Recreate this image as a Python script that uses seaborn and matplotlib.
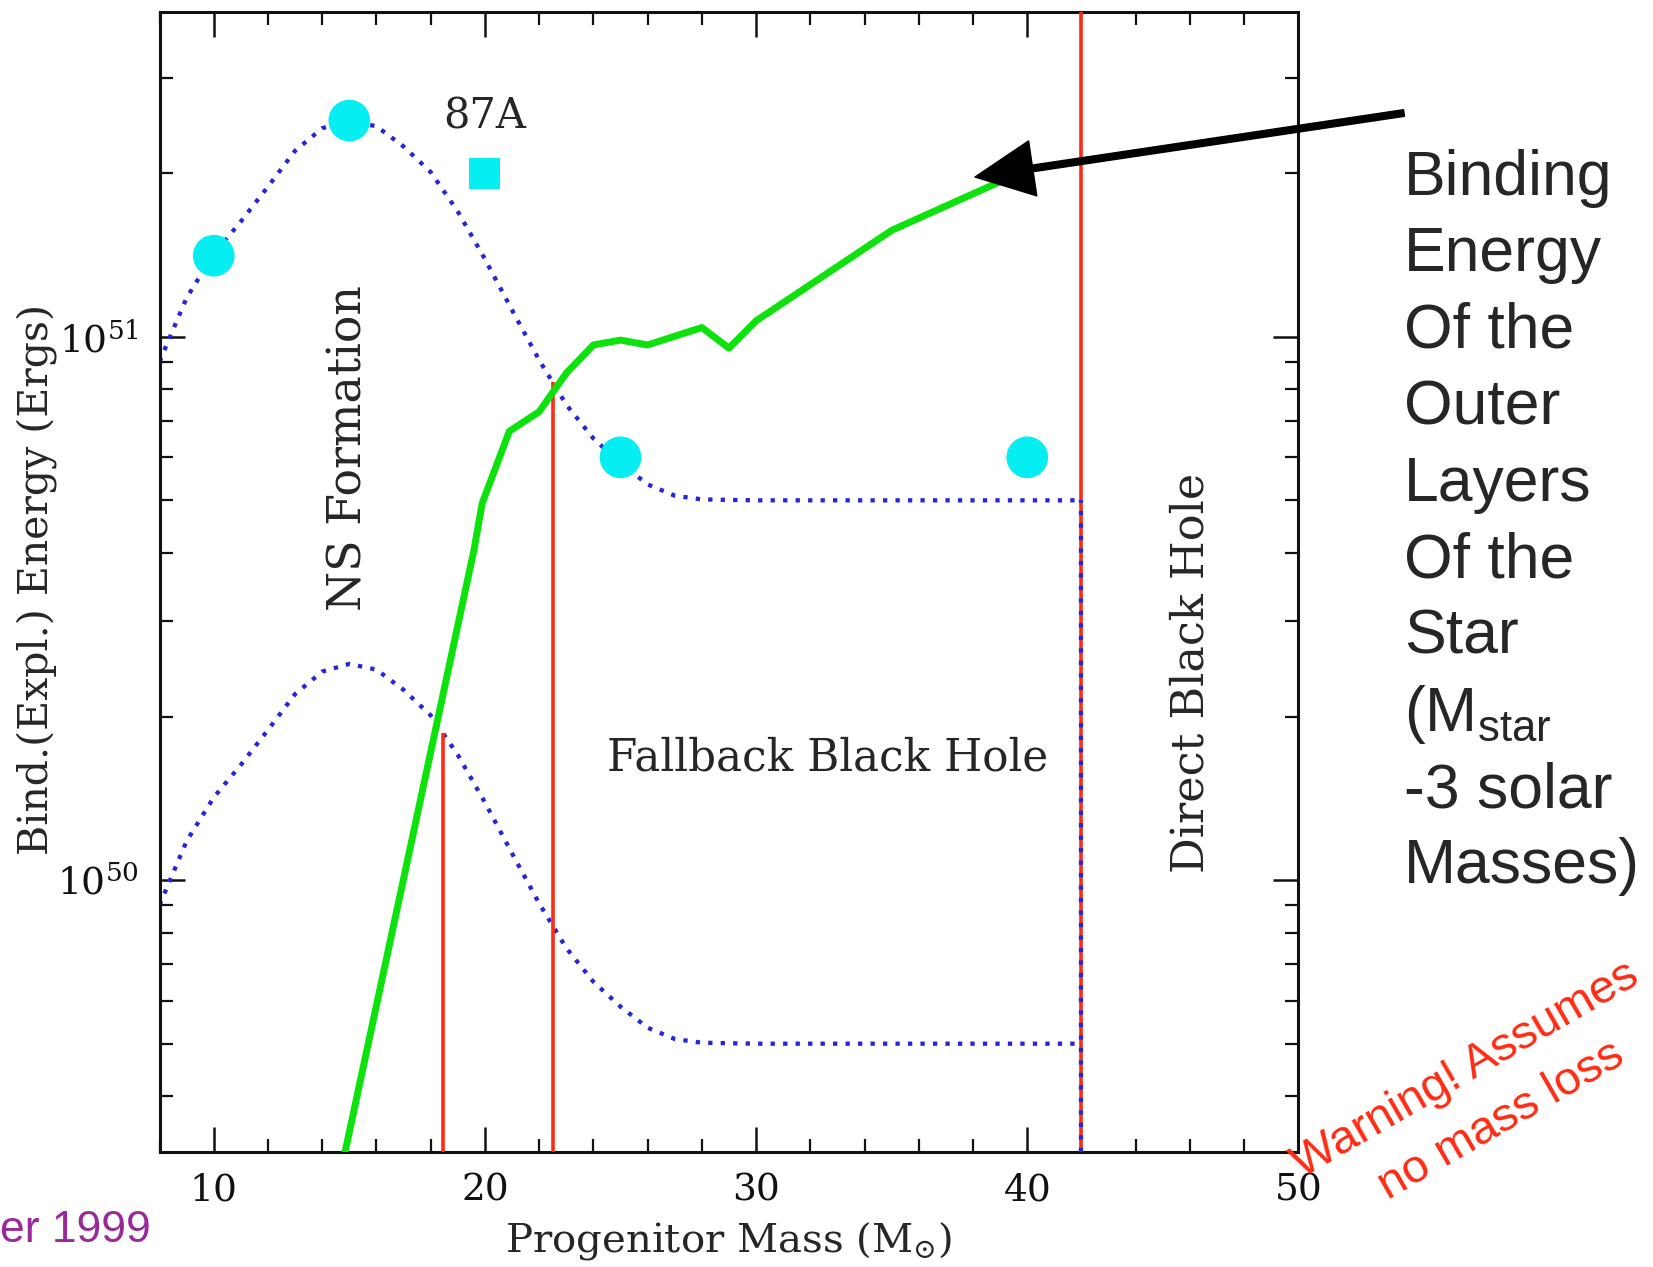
import numpy as np
import pandas as pd
import matplotlib
matplotlib.use("Agg")
import matplotlib.pyplot as plt
import seaborn as sns
from matplotlib.ticker import MultipleLocator, LogLocator, NullFormatter

# ---- data -------------------------------------------------------------
# explosion energy (erg) versus progenitor mass (solar masses)
mass_grid = [8, 9, 10, 11, 12, 13, 14, 15, 16, 17, 18, 19, 20, 21, 22,
             23, 24, 25, 26, 27, 28, 30, 35, 42]
expl_upper = [9.0e50, 1.18e51, 1.42e51, 1.63e51, 1.89e51, 2.20e51, 2.42e51,
              2.50e51, 2.44e51, 2.24e51, 2.01e51, 1.70e51, 1.39e51, 1.12e51,
              9.06e50, 7.50e50, 6.50e50, 5.85e50, 5.35e50, 5.10e50, 5.02e50,
              5.00e50, 5.00e50, 5.00e50]
expl_lower = [9.0e49, 1.18e50, 1.42e50, 1.63e50, 1.89e50, 2.20e50, 2.42e50,
              2.50e50, 2.44e50, 2.24e50, 2.01e50, 1.70e50, 1.39e50, 1.12e50,
              9.06e49, 7.50e49, 6.50e49, 5.85e49, 5.35e49, 5.10e49, 5.02e49,
              5.00e49, 5.00e49, 5.00e49]

# individual explosion models and SN 1987A
model_mass = [10, 15, 25, 40]
model_energy = [1.41e51, 2.50e51, 6.0e50, 6.0e50]
sn87a_mass = [20]
sn87a_energy = [2.0e51]

# binding energy of the outer layers of the star
bind_mass = [14.5, 19.6, 19.9, 20.9, 22.0, 23.0, 24.0, 25.0, 26.0, 28.0,
             29.0, 30.0, 35.0, 39.0]
bind_energy = [2.63e49, 4.06e50, 4.94e50, 6.70e50, 7.28e50, 8.57e50, 9.66e50,
               9.86e50, 9.66e50, 1.04e51, 9.53e50, 1.07e51, 1.57e51, 1.93e51]

# transition masses: NS -> fallback BH -> direct BH
boundary_mass = [18.45, 22.5, 42.0]

note_lines = ["Binding", "Energy", "Of the", "Outer", "Layers", "Of the",
              "Star", r"(M$_\mathrm{star}$", "-3 solar", "Masses)"]
warning_lines = ["Warning! Assumes", "no mass loss"]

x_range = (8, 50)
y_range = (3.16e49, 3.96e51)

# ---- style ------------------------------------------------------------
sns.set_theme(style="ticks")
plt.rcParams.update({
    "font.family": ["DejaVu Serif"],
    "mathtext.fontset": "dejavuserif",
    "mathtext.rm": "Liberation Sans",
    "axes.linewidth": 2.2,
    "axes.edgecolor": "#111111",
    "xtick.color": "#111111",
    "ytick.color": "#111111",
})

blue = "#2626d8"
green = "#0de20d"
red = "#ff2a12"
cyan = "#05eef2"
dots = (0, (1, 1.9))

fig = plt.figure(figsize=(16.53, 12.67), dpi=100)
ax = fig.add_axes([0.0965, 0.0908, 0.689, 0.8997])

expl = pd.DataFrame({"mass": mass_grid, "upper": expl_upper, "lower": expl_lower})
bind = pd.DataFrame({"mass": bind_mass, "energy": bind_energy})

sns.lineplot(data=expl, x="mass", y="upper", ax=ax, color=blue, lw=3.1,
             linestyle=dots, zorder=2)
sns.lineplot(data=expl, x="mass", y="lower", ax=ax, color=blue, lw=3.1,
             linestyle=dots, zorder=2)

# boundary lines reach up to the explosion-energy curves
log_up = np.log10(expl_upper)
log_lo = np.log10(expl_lower)
tops = [10 ** np.interp(boundary_mass[0], mass_grid, log_lo),
        10 ** np.interp(boundary_mass[1], mass_grid, log_up),
        y_range[1]]
ax.vlines(boundary_mass, y_range[0], tops, colors=red, lw=2.6, zorder=3)
ax.vlines(mass_grid[-1], y_range[0], expl_upper[-1], colors=blue, lw=3.1,
          linestyles=[dots], zorder=3.5)

sns.lineplot(data=bind, x="mass", y="energy", ax=ax, color=green, lw=5.0,
             zorder=4)

sns.scatterplot(x=model_mass, y=model_energy, ax=ax, s=900, color=cyan,
                edgecolor="none", marker="o", zorder=5)
sns.scatterplot(x=sn87a_mass, y=sn87a_energy, ax=ax, s=500, color=cyan,
                edgecolor="none", marker="s", zorder=5)

ax.set_yscale("log")
ax.set_xlim(*x_range)
ax.set_ylim(*y_range)

ax.xaxis.set_major_locator(MultipleLocator(10))
ax.xaxis.set_minor_locator(MultipleLocator(2))
ax.yaxis.set_major_locator(LogLocator(base=10, numticks=10))
ax.yaxis.set_minor_locator(LogLocator(base=10, subs=np.arange(2, 10), numticks=100))
ax.yaxis.set_minor_formatter(NullFormatter())

ax.tick_params(which="both", direction="in", top=True, right=True)
ax.tick_params(which="major", length=18, width=1.8, labelsize=27)
ax.tick_params(which="minor", length=9.5, width=1.6)
ax.tick_params(axis="x", which="major", pad=15)
ax.tick_params(axis="y", which="major", pad=15)
for s in ax.spines.values():
    s.set_visible(True)

ax.set_xlabel(r"Progenitor Mass (M$_{\odot}$)", fontsize=29)
ax.set_ylabel("Bind.(Expl.) Energy (Ergs)", fontsize=29.5)
ax.xaxis.set_label_coords(0.5, -0.060)
ax.yaxis.set_label_coords(-0.0896, 0.502)

# region labels
ax.text(20, 2.54e51, "87A", fontsize=30, ha="center", va="center")
ax.text(15, 6.25e50, "NS Formation", fontsize=33, rotation=90,
        ha="center", va="center")
ax.text(32.63, 1.675e50, "Fallback Black Hole", fontsize=31.5,
        ha="center", va="center")
ax.text(46.03, 2.41e50, "Direct Black Hole", fontsize=32, rotation=90,
        ha="center", va="center")

# side note and arrow pointing at the binding-energy curve
H = 1267
W = 1653
for i, line in enumerate(note_lines):
    fig.text(1404 / W, 1 - (195 + 76.5 * i) / H, line, fontsize=45,
             family="Liberation Sans", va="baseline", ha="left",
             math_fontfamily="custom")

ax.annotate("", xy=(975, H - 177), xycoords="figure pixels",
            xytext=(1404, H - 113), textcoords="figure pixels",
            arrowprops=dict(facecolor="black", edgecolor="black", width=4.8,
                            headwidth=40, headlength=42, shrink=0),
            annotation_clip=False, zorder=10)

fig.text(0.0, 1 - 1241.7 / H, "er 1999", fontsize=32, family="Liberation Sans",
         color="#99289c", ha="left", va="baseline")

# tilted caveat, one text per line
for (cx, cy), line in zip([(1466, 1070), (1501, 1121)], warning_lines):
    fig.text(cx / W, 1 - cy / H, line, fontsize=34, family="Liberation Sans",
             color=red, rotation=30, ha="center", va="center",
             rotation_mode="anchor")

fig.savefig("out.png", dpi=100)
